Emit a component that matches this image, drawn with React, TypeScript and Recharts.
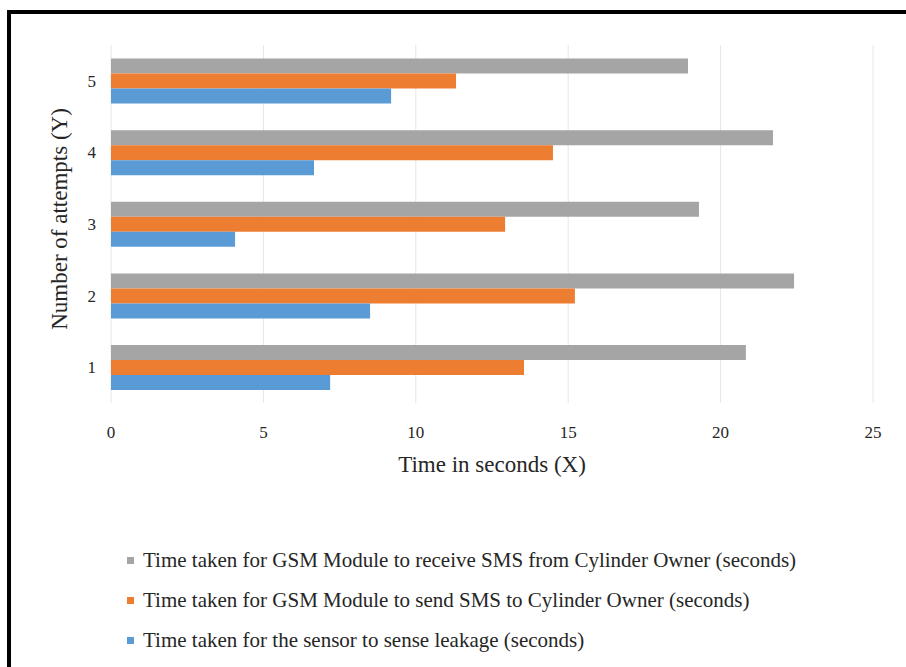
import React from 'react';
import { BarChart, Bar, XAxis, YAxis, CartesianGrid, Label } from 'recharts';

const attempts = ['1', '2', '3', '4', '5'];
const sensorTimes = [7.19, 8.5, 4.07, 6.66, 9.19];
const sendTimes = [13.55, 15.22, 12.93, 14.5, 11.32];
const receiveTimes = [20.83, 22.41, 19.29, 21.72, 18.93];
const xTicks = [0, 5, 10, 15, 20, 25];

const seriesNames = [
  'Time taken for GSM Module to receive SMS from Cylinder Owner (seconds)',
  'Time taken for GSM Module to send SMS to Cylinder Owner (seconds)',
  'Time taken for the sensor to sense leakage (seconds)',
];
const seriesKeys = ['receive', 'send', 'sensor'];
const seriesColors = ['#A5A5A5', '#ED7D31', '#5B9BD5'];

const data = attempts.map((a, i) => ({
  attempt: a,
  receive: receiveTimes[i],
  send: sendTimes[i],
  sensor: sensorTimes[i],
}));

const FONT = '"Liberation Serif", "Times New Roman", serif';
const TEXT = '#262626';

export default function App() {
  return (
    <div style={{ position: 'absolute', left: 0, top: 0, width: 906, height: 667, overflow: 'hidden', background: '#fff', fontFamily: FONT }}>
      {/* frame: only top and left edges show in the crop */}
      <div style={{ position: 'absolute', left: 7, top: 10, width: 1000, height: 1000, borderTop: '4px solid #000', borderLeft: '4px solid #000' }} />

      <div style={{ position: 'absolute', left: 0, top: 0 }}>
        <BarChart
          width={906}
          height={500}
          data={data}
          layout="vertical"
          margin={{ top: 45, right: 33, left: 0, bottom: 17 }}
          barCategoryGap="19%"
          barGap={0}
        >
          <CartesianGrid horizontal={false} vertical={true} stroke="#E6E6E6" />
          <XAxis
            type="number"
            domain={[0, 25]}
            ticks={xTicks}
            axisLine={false}
            tickLine={false}
            tickSize={0}
            tickMargin={23}
            height={80}
            tick={{ fill: TEXT, fontSize: 17, fontFamily: FONT }}
          >
            <Label value="Time in seconds (X)" position="insideBottom" offset={11} style={{ fill: TEXT, fontSize: 23, fontFamily: FONT }} />
          </XAxis>
          <YAxis
            type="category"
            dataKey="attempt"
            reversed
            width={111}
            axisLine={false}
            tickLine={false}
            tickSize={0}
            tickMargin={15}
            tick={{ fill: TEXT, fontSize: 17, fontFamily: FONT }}
          >
            <Label
              content={({ viewBox }: any) => {
                const cx = 59;
                const cy = viewBox.y + viewBox.height / 2 - 5;
                return (
                  <text
                    x={cx}
                    y={cy}
                    transform={`rotate(-90 ${cx} ${cy})`}
                    textAnchor="middle"
                    dominantBaseline="central"
                    fill={TEXT}
                    fontSize={23}
                    fontFamily={FONT}
                  >
                    Number of attempts (Y)
                  </text>
                );
              }}
            />
          </YAxis>
          {seriesKeys.map((k, i) => (
            <Bar key={k} dataKey={k} name={seriesNames[i]} fill={seriesColors[i]} isAnimationActive={false} />
          ))}
        </BarChart>
      </div>

      {/* legend */}
      <div style={{ position: 'absolute', left: 127, top: 540 }}>
        {seriesNames.map((n, i) => (
          <div key={n} style={{ display: 'flex', alignItems: 'center', height: 40, color: TEXT, fontSize: 21, whiteSpace: 'nowrap' }}>
            <span style={{ display: 'inline-block', width: 7, height: 7, background: seriesColors[i], marginRight: 9 }} />
            <span>{n}</span>
          </div>
        ))}
      </div>
    </div>
  );
}
